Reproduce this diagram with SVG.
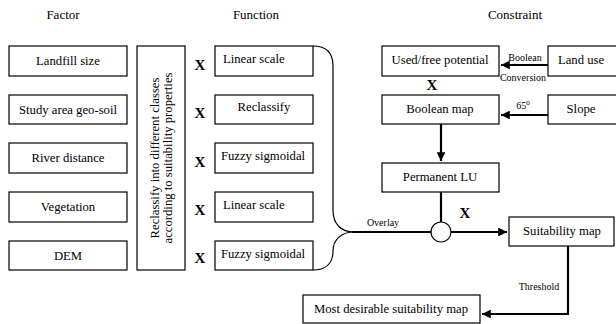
<svg xmlns="http://www.w3.org/2000/svg" width="616" height="324" viewBox="0 0 616 324" font-family="'Liberation Serif', 'Times New Roman', serif">
<defs>
<style>
.b{fill:#fff;stroke:#000;stroke-width:1.2}
.t{font-size:12.7px;text-anchor:middle}
.h{font-size:13px;text-anchor:middle}
.s{font-size:10px;text-anchor:middle}
.x{font-size:15px;font-weight:bold;text-anchor:middle}
.ln{fill:none;stroke:#000;stroke-width:1.2}
.th{fill:none;stroke:#000;stroke-width:2.2}
</style>
<marker id="ah" viewBox="0 0 10 10" refX="10" refY="5" markerWidth="4" markerHeight="4" orient="auto" markerUnits="strokeWidth">
<path d="M0,0L10,5L0,10z" fill="#000"/>
</marker>
</defs>
<rect width="616" height="324" fill="#fff"/>
<text class="h" x="63" y="19">Factor</text>
<text class="h" x="256" y="19">Function</text>
<text class="h" x="515" y="19">Constraint</text>

<g id="connectors">
<path class="ln" d="M313,46 C327,46 333,53 333,66 L333,210 C333,224 341,232 354,232"/>
<path class="ln" d="M313,270 C327,270 333,262 333,251 C333,240 341,232 354,232"/>
<path class="th" d="M352,232 L431,232"/>
<path class="th" d="M451,232 L507,232" marker-end="url(#ah)"/>
<path class="th" d="M441,192 L441,222"/>
<path class="th" d="M548,65 L501,65" marker-end="url(#ah)"/>
<path class="th" d="M548,115 L501,115" marker-end="url(#ah)"/>
<path class="th" d="M441,124 L441,161" marker-end="url(#ah)"/>
<path class="th" d="M568,246 L568,314 L482,314" marker-end="url(#ah)"/>
<text class="s" x="525" y="61">Boolean</text>
<text class="s" x="523" y="81">Conversion</text>
<text class="s" x="523" y="109">65<tspan font-size="7" dy="-4">0</tspan></text>
<text class="s" x="383" y="226">Overlay</text>
<text class="s" x="539" y="290">Threshold</text>
<text class="x" x="432" y="90">X</text>
<text class="x" x="465" y="218">X</text>
</g>

<g id="landfill"><rect class="b" x="9" y="46" width="118" height="30"/><text class="t" x="68" y="65">Landfill size</text></g>
<g id="geosoil"><rect class="b" x="9" y="95" width="118" height="29"/><text class="t" x="68" y="114">Study area geo-soil</text></g>
<g id="river"><rect class="b" x="9" y="143" width="118" height="30"/><text class="t" x="68" y="162">River distance</text></g>
<g id="vegetation"><rect class="b" x="9" y="192" width="118" height="30"/><text class="t" x="68" y="211">Vegetation</text></g>
<g id="dem"><rect class="b" x="9" y="241" width="118" height="29"/><text class="t" x="68" y="260">DEM</text></g>

<g id="reclassify"><rect class="b" x="137" y="46" width="48" height="224"/>
<text class="t" transform="translate(159,158) rotate(-90)">Reclassify into different classes</text>
<text class="t" transform="translate(172,158) rotate(-90)">according to suitability properties</text></g>

<g id="xmarks">
<text class="x" x="200" y="70">X</text>
<text class="x" x="200" y="118">X</text>
<text class="x" x="200" y="167">X</text>
<text class="x" x="200" y="215">X</text>
<text class="x" x="200" y="263">X</text>
</g>

<g id="f1"><rect class="b" x="215" y="46" width="98" height="30"/><text class="t" x="223" y="63" style="text-anchor:start">Linear scale</text></g>
<g id="f2"><rect class="b" x="215" y="95" width="98" height="29"/><text class="t" x="264" y="111">Reclassify</text></g>
<g id="f3"><rect class="b" x="215" y="143" width="98" height="30"/><text class="t" x="263" y="160">Fuzzy sigmoidal</text></g>
<g id="f4"><rect class="b" x="215" y="192" width="98" height="30"/><text class="t" x="223" y="209" style="text-anchor:start">Linear scale</text></g>
<g id="f5"><rect class="b" x="215" y="241" width="98" height="29"/><text class="t" x="263" y="258">Fuzzy sigmoidal</text></g>

<g id="usedfree"><rect class="b" x="382" y="46" width="117" height="30"/><text class="t" x="440" y="64">Used/free potential</text></g>
<g id="landuse"><rect class="b" x="548" y="46" width="70" height="30"/><text class="t" x="581" y="64">Land use</text></g>
<g id="booleanmap"><rect class="b" x="382" y="95" width="117" height="29"/><text class="t" x="440" y="113">Boolean map</text></g>
<g id="slope"><rect class="b" x="548" y="95" width="70" height="29"/><text class="t" x="581" y="113">Slope</text></g>
<g id="permanent"><rect class="b" x="382" y="163" width="117" height="29"/><text class="t" x="440" y="181">Permanent LU</text></g>
<g id="overlay"><circle class="b" cx="441" cy="232" r="10"/></g>
<g id="suitability"><rect class="b" x="509" y="217" width="105" height="29"/><text class="t" x="562" y="235">Suitability map</text></g>
<g id="desirable"><rect class="b" x="303" y="295" width="177" height="28"/><text class="t" x="391" y="313">Most desirable suitability map</text></g>
</svg>
